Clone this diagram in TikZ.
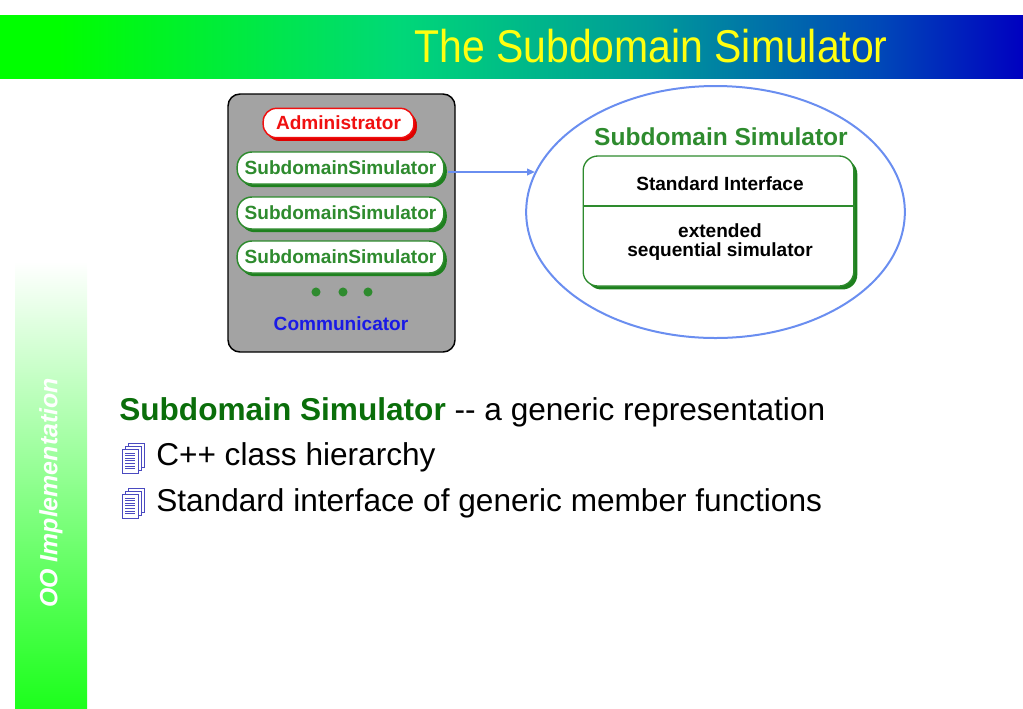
\documentclass[tikz,border=0pt]{standalone}
\usepackage{fontspec}
\setmainfont{Liberation Sans}
\usetikzlibrary{shadows,shapes.geometric,arrows.meta}
\definecolor{tg1}{HTML}{00FF00}
\definecolor{tg2}{HTML}{00D878}
\definecolor{tg3}{HTML}{009A9A}
\definecolor{tg4}{HTML}{0048B8}
\definecolor{tg5}{HTML}{0000C0}
\definecolor{titleyellow}{HTML}{FFFF10}
\definecolor{sidegreen}{HTML}{1CFF1C}
\definecolor{pillgreen}{HTML}{2E8B2E}
\definecolor{pillshadow}{HTML}{1E801E}
\definecolor{pillred}{HTML}{F01010}
\definecolor{redshadow}{HTML}{E00000}
\definecolor{boxgray}{HTML}{A3A3A3}
\definecolor{commblue}{HTML}{1A1AE6}
\definecolor{ellblue}{HTML}{6A8EF0}
\definecolor{bodygreen}{HTML}{0A6E0A}
\definecolor{iconblue}{HTML}{4A4AC0}
\pgfdeclarehorizontalshading{titlebar}{100bp}{color(0bp)=(tg1); color(27.9bp)=(tg1);
  color(44.5bp)=(tg2); color(56.8bp)=(tg3); color(68bp)=(tg4); color(75bp)=(tg5); color(100bp)=(tg5)}
\begin{document}
\begin{tikzpicture}[x=0.75pt,y=-0.75pt,
  graybox/.style={draw=black, line width=1.1pt, fill=boxgray, rounded corners=9pt,
    minimum width=170.25pt, minimum height=193.5pt, inner sep=0pt},
  pill/.style={draw=pillgreen, line width=1.1pt, fill=white, rounded corners=11pt,
    minimum width=155pt, minimum height=24pt, inner sep=0pt, text=pillgreen,
    font=\fontsize{14.3}{16}\selectfont\bfseries,
    drop shadow={shadow xshift=2.2pt, shadow yshift=-2.4pt, fill=pillshadow, opacity=1}},
  redpill/.style={pill, draw=pillred, text=pillred, minimum width=113pt, minimum height=22pt,
    rounded corners=10pt,
    drop shadow={shadow xshift=2.2pt, shadow yshift=-2.4pt, fill=redshadow, opacity=1}},
  dotnode/.style={circle, fill=pillgreen, minimum size=6.8pt, inner sep=0pt},
  labeltext/.style={font=\fontsize{14.3}{14.5}\selectfont\bfseries, inner sep=0pt, align=center},
  ellnode/.style={ellipse, draw=ellblue, line width=1.5pt, minimum width=284pt, minimum height=189pt},
  innerbox/.style={draw=pillgreen, line width=1pt, fill=white, rounded corners=11pt,
    minimum width=203pt, minimum height=97.5pt, inner sep=0pt,
    drop shadow={shadow xshift=2.6pt, shadow yshift=-2.6pt, fill=pillshadow, opacity=1}},
  arrowline/.style={draw=ellblue, line width=1.3pt, -{Triangle[length=6pt,width=5pt]}},
  bodytext/.style={anchor=base west, inner sep=0pt, font=\fontsize{23.7}{26}\selectfont},
  docicon/.pic={
    \draw[iconblue, fill=white, line width=0.6pt] (6,0) rectangle (22,24);
    \draw[iconblue, fill=white, line width=0.6pt] (3,3) rectangle (19,27);
    \draw[iconblue, fill=white, line width=0.6pt] (0,6) rectangle (16,30);
    \foreach \yy in {10,12.6,15.2,17.8,20.4,23,25.6}{\draw[iconblue, line width=0.5pt] (3,\yy) -- (13,\yy);}
  }
]
\useasboundingbox (0,0) rectangle (1023,708);
% title bar
\shade[shading=titlebar] (0,15) rectangle (1023,78);
\node[anchor=base, inner sep=0pt, text=titleyellow, xscale=0.89,
  font=\fontsize{34.5}{36}\selectfont] (title) at (651,62) {The Subdomain Simulator};
% sidebar
\shade[top color=white, bottom color=sidegreen] (15,262) rectangle (87,708);
\node[rotate=90, text=white, inner sep=0pt, font=\fontsize{18.7}{20}\selectfont\bfseries\itshape]
  (side) at (51,493) {OO Implementation};
% left box
\node[graybox] (box) at (341.5,223) {};
\node[redpill] (admin) at (338.5,123) {Administrator};
\node[pill] (ss1) at (340.5,168) {SubdomainSimulator};
\node[pill] (ss2) at (340.5,213) {SubdomainSimulator};
\node[pill] (ss3) at (340.5,257) {SubdomainSimulator};
\node[dotnode] (d1) at (316,292) {};
\node[dotnode] (d2) at (343,292) {};
\node[dotnode] (d3) at (368,292) {};
\node[labeltext, text=commblue] (comm) at (341,324) {Communicator};
% ellipse
\node[ellnode] (ell) at (715.5,212) {};
\node[inner sep=0pt, text=pillgreen, font=\fontsize{18.4}{20}\selectfont\bfseries] (ssname) at (721,137) {Subdomain Simulator};
\node[innerbox] (inner) at (718.5,221) {};
\coordinate (sep) at (0,206);
\draw[pillgreen, line width=0.8pt] (inner.west |- sep) -- (inner.east |- sep);
\node[labeltext] (stdif) at (720,184) {Standard Interface};
\node[labeltext] (ext) at (720,242) {extended\\sequential simulator};
\coordinate (arrowstart) at (448,172);
\coordinate (arrowend) at (535,172);
\draw[arrowline] (arrowstart) -- (arrowend);
% body
\node[bodytext] (l1) at (119,420) {\textcolor{bodygreen}{\bfseries Subdomain Simulator} -{}- a generic representation};
\pic at (122,443) {docicon};
\node[bodytext] (l2) at (156,465) {C++ class hierarchy};
\pic at (122,488) {docicon};
\node[bodytext] (l3) at (156,511) {Standard interface of generic member functions};
\end{tikzpicture}
\end{document}
